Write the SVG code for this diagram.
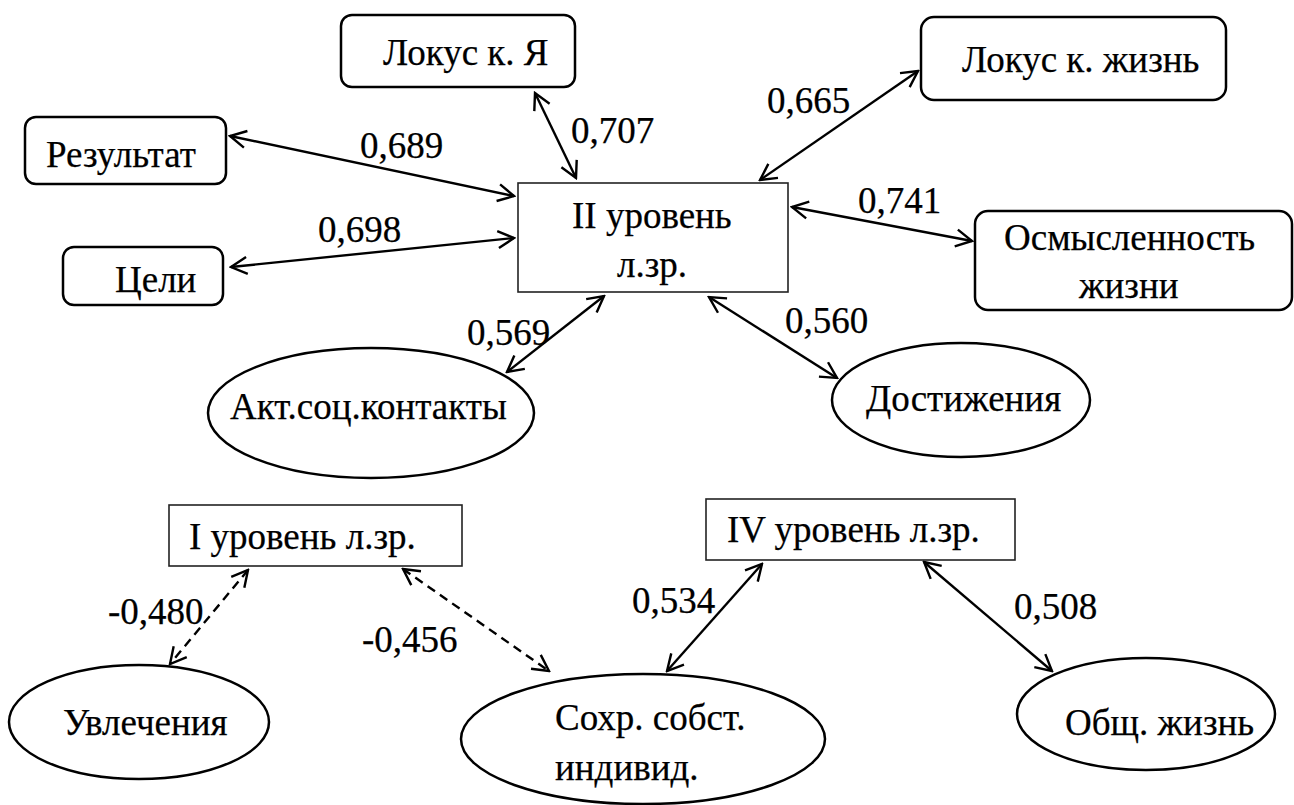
<svg xmlns="http://www.w3.org/2000/svg" width="1294" height="805" viewBox="0 0 1294 805">
<defs>
<style>
text{font-family:"Liberation Serif","Times New Roman",serif;font-size:37px;fill:#000;stroke:#000;stroke-width:0.25}
.rb{fill:#fff;stroke:#000;stroke-width:2.5}
.sq{fill:#fff;stroke:#222;stroke-width:1.6}
.el{fill:#fff;stroke:#000;stroke-width:2.5}
.c{fill:none;stroke:#000;stroke-width:2.4;marker-start:url(#ah);marker-end:url(#ah)}
.d{stroke-dasharray:9 6}
</style>
<marker id="ah" markerUnits="userSpaceOnUse" viewBox="-18 -10 20 20" refX="0" refY="0" markerWidth="20" markerHeight="20" orient="auto-start-reverse">
<path d="M-16,-8.5 L0,0 L-16,8.5" fill="none" stroke="#000" stroke-width="2.4"/>
</marker>
</defs>
<rect width="1294" height="805" fill="#fff"/>
<g id="connectors">
<line class="c" x1="535" y1="93" x2="576" y2="178"/>
<line class="c" x1="230" y1="136" x2="514" y2="196"/>
<line class="c" x1="231" y1="267" x2="514" y2="238"/>
<line class="c" x1="760" y1="180" x2="918" y2="71"/>
<line class="c" x1="792" y1="207" x2="972" y2="241"/>
<line class="c" x1="604" y1="296" x2="507" y2="372"/>
<line class="c" x1="709" y1="297" x2="837" y2="378"/>
<line class="c d" x1="248" y1="570" x2="170" y2="664"/>
<line class="c d" x1="403" y1="569" x2="549" y2="671"/>
<line class="c" x1="762" y1="564" x2="667" y2="671"/>
<line class="c" x1="924" y1="562" x2="1052" y2="671"/>
</g>
<g id="labels">
<text x="360" y="158">0,689</text>
<text x="318" y="242">0,698</text>
<text x="571" y="143">0,707</text>
<text x="767" y="113">0,665</text>
<text x="858" y="213">0,741</text>
<text x="467" y="345">0,569</text>
<text x="785" y="333">0,560</text>
<text x="108" y="624">-0,480</text>
<text x="362" y="652">-0,456</text>
<text x="632" y="613">0,534</text>
<text x="1014" y="619">0,508</text>
</g>
<g id="n-lokus-ya">
<rect class="rb" x="341" y="15" width="234" height="72" rx="11"/>
<text x="383" y="65">Локус к. Я</text>
</g>
<g id="n-rezultat">
<rect class="rb" x="25" y="117" width="201" height="67" rx="11"/>
<text x="46" y="167">Результат</text>
</g>
<g id="n-celi">
<rect class="rb" x="63" y="247" width="160" height="58" rx="11"/>
<text x="115" y="292">Цели</text>
</g>
<g id="n-level2">
<rect class="sq" x="518" y="183" width="270" height="109"/>
<text x="572" y="228">II уровень</text>
<text x="617" y="277">л.зр.</text>
</g>
<g id="n-lokus-life">
<rect class="rb" x="921" y="17" width="305" height="83" rx="13"/>
<text x="962" y="72">Локус к. жизнь</text>
</g>
<g id="n-osmysl">
<rect class="rb" x="975" y="211" width="317" height="99" rx="13"/>
<text x="1004" y="250">Осмысленность</text>
<text x="1079" y="298">жизни</text>
</g>
<g id="n-akt">
<ellipse class="el" cx="371" cy="413" rx="163" ry="65"/>
<text x="230" y="419">Акт.соц.контакты</text>
</g>
<g id="n-dost">
<ellipse class="el" cx="961" cy="400" rx="129" ry="57"/>
<text x="866" y="411">Достижения</text>
</g>
<g id="n-level1">
<rect class="sq" x="169" y="505" width="293" height="61"/>
<text x="189" y="549">I уровень л.зр.</text>
</g>
<g id="n-level4">
<rect class="sq" x="706" y="499" width="309" height="61"/>
<text x="727" y="542">IV уровень л.зр.</text>
</g>
<g id="n-uvl">
<ellipse class="el" cx="139" cy="722" rx="130" ry="57"/>
<text x="63" y="735">Увлечения</text>
</g>
<g id="n-sohr">
<ellipse class="el" cx="643" cy="739" rx="182" ry="65"/>
<text x="555" y="730">Сохр. собст.</text>
<text x="555" y="780">индивид.</text>
</g>
<g id="n-obsh">
<ellipse class="el" cx="1146" cy="714" rx="129" ry="56"/>
<text x="1065" y="735">Общ. жизнь</text>
</g>
</svg>
